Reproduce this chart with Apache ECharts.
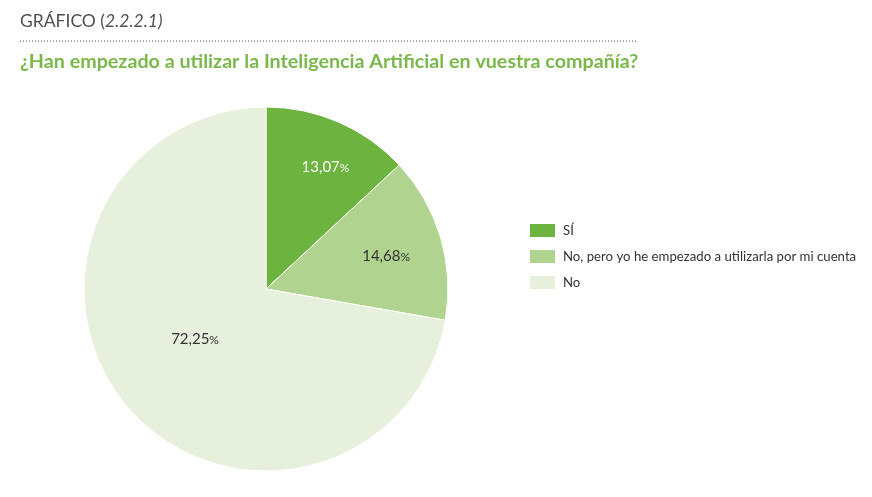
<!DOCTYPE html>
<html><head><meta charset="utf-8">
<script src="https://cdn.jsdelivr.net/npm/echarts@6/dist/echarts.min.js"></script>
<style>html,body{margin:0;padding:0;background:#fff}#c{width:872px;height:497px}</style>
</head><body><div id="c"></div>
<script>
const categories = ['SÍ', 'No, pero yo he empezado a utilizarla por mi cuenta', 'No'];
const values = [13.07, 14.68, 72.25];
const colors = ['#6db33f', '#b0d48f', '#e6f0dc'];
const labelColors = ['#ffffff', '#333333', '#333333'];
const labelShift = [[22, -36], [30, -6], [1, -10]];

const chart = echarts.init(document.getElementById('c'));
chart.setOption({
  animation: false,
  color: colors,
  graphic: [
    { type: 'text', left: 20, top: 12, style: { text: '{a|GRÁFICO (}{b|2.2.2.1)}', rich: {
      a: { fontFamily: 'Lato', fontSize: 17.5, fill: '#505050' },
      b: { fontFamily: 'Lato', fontSize: 17.5, fontStyle: 'italic', fill: '#505050' } } } },
    { type: 'line', shape: { x1: 20, y1: 41, x2: 637, y2: 41 }, style: { stroke: '#555', lineWidth: 1.2, lineDash: [1, 2] } },
    { type: 'text', left: 20, top: 52, style: { text: '¿Han empezado a utilizar la Inteligencia Artificial en vuestra compañía?', fontFamily: 'Lato', fontSize: 19.7, fontWeight: 'bold', fill: '#7ab84c' } }
  ],
  legend: {
    orient: 'vertical', left: 528, top: 222, padding: 0, itemWidth: 27, itemHeight: 15, itemGap: 9,
    icon: 'rect',
    textStyle: { fontFamily: 'Lato', fontSize: 13.2, color: '#333', padding: [0, 0, 0, 2] },
    data: categories
  },
  series: [{
    type: 'pie', center: [266, 289], radius: 182, startAngle: 90, clockwise: true,
    itemStyle: { borderColor: '#fff', borderWidth: 1 },
    label: { position: 'inside' },
    labelLayout: function (p) { const s = labelShift[p.dataIndex]; return { dx: s[0], dy: s[1] }; },
    emphasis: { disabled: true },
    data: categories.map((n, i) => ({
      name: n, value: values[i],
      label: {
        formatter: function (p) { return '{n|' + p.value.toFixed(2).replace('.', ',') + '}{p|%}'; },
        rich: {
          n: { fontFamily: 'Lato', fontSize: 15, color: labelColors[i] },
          p: { fontFamily: 'Lato', fontSize: 12, color: labelColors[i], padding: [2, 0, 0, 0] }
        }
      }
    }))
  }]
});
</script></body></html>
